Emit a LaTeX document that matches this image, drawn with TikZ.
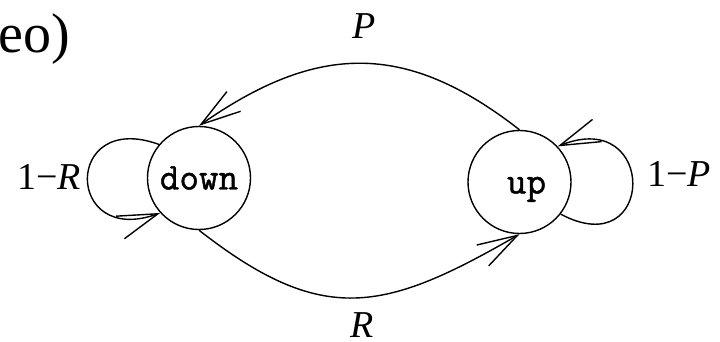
\documentclass[tikz,border=0pt]{standalone}
\usepackage{fontspec}
\setmainfont{Liberation Serif}
\setmonofont[FakeBold=1.2]{Latin Modern Mono}
\usetikzlibrary{arrows.meta}
\tikzset{
  state/.style={draw,circle,line width=1.4pt,minimum size=103pt,inner sep=0pt,
    font=\fontsize{38}{40}\selectfont\ttfamily,text height=23pt,text depth=0pt},
  conn/.style={line width=1.4pt,-{Straight Barb[length=40pt,width=24pt]}},
  lbl/.style={inner sep=0pt,font=\fontsize{38}{40}\selectfont},
}
\begin{document}
\begin{tikzpicture}[x=1pt,y=1pt]
\useasboundingbox (0,0) rectangle (720,-342);
\node[inner sep=0pt,anchor=base west,font=\fontsize{56}{60}\selectfont] (cap) at (-2,-53) {eo)};
\node[state] (down) at (199,-178) {down};
\node[state] (up) at (519.5,-182) {\makebox[0pt]{\kern14pt up}};
\draw[conn] (up.north) to[out=142,in=35,looseness=1.15] (down.north);
\draw[conn] (down.south) to[out=-38,in=-150,looseness=1.25] (up.south);
\draw[conn] (down.140) to[out=160,in=200,distance=102pt] (down.222);
\draw[conn] (up.-38) to[out=-28,in=22,distance=108pt] (up.43);
\node[lbl,anchor=base east] (lR) at (81,-189) {1−\textit{R}};
\node[lbl,anchor=base west] (lP) at (647,-186) {1−\textit{P}};
\node[lbl,anchor=base] (tP) at (364,-39) {\textit{P}};
\node[lbl,anchor=base] (bR) at (362,-337) {\textit{R}};
\end{tikzpicture}
\end{document}
